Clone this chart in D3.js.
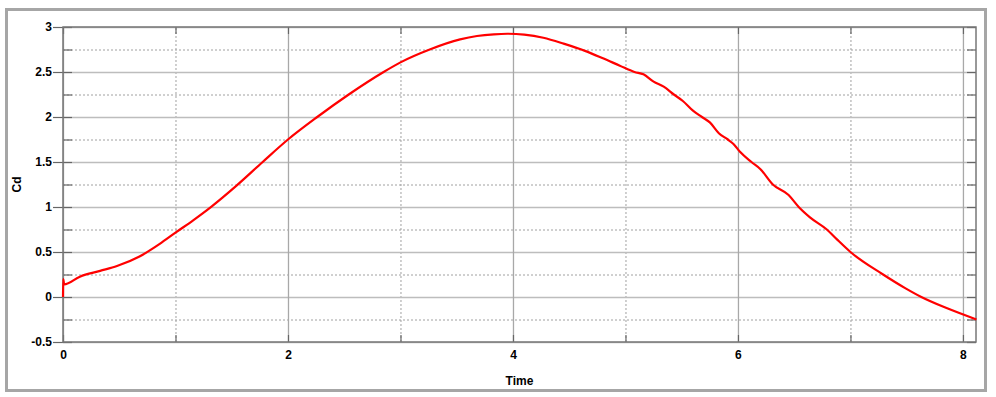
<!DOCTYPE html>
<html>
<head>
<meta charset="utf-8">
<script src="https://cdnjs.cloudflare.com/ajax/libs/d3/7.8.5/d3.min.js"></script>
<style>
  body { margin: 0; background: #fff; }
  svg text { font-family: "Liberation Sans", Arial, sans-serif; font-weight: bold; font-size: 12px; fill: #000; }
</style>
</head>
<body>
<svg width="996" height="397"></svg>
<script>
// drag coefficient vs time
var timeValues = [0, 0.002, 0.01, 0.15, 0.33, 0.48, 0.68, 0.86, 1.0, 1.16, 1.32, 1.54, 1.77, 2.0, 2.26, 2.54, 2.85, 3.0, 3.26, 3.53, 3.68, 3.83, 3.95, 4.1, 4.27, 4.45, 4.64, 4.8, 4.95, 5.08, 5.16, 5.25, 5.34, 5.43, 5.51, 5.6, 5.68, 5.75, 5.83, 5.91, 5.96, 6.02, 6.12, 6.2, 6.31, 6.45, 6.54, 6.64, 6.79, 6.88, 7.0, 7.29, 7.49, 7.63, 7.86, 8.12];
var cdValues = [0, 0.2, 0.14, 0.226, 0.29, 0.344, 0.45, 0.59, 0.715, 0.855, 1.005, 1.235, 1.495, 1.75, 2.0, 2.25, 2.5, 2.607, 2.75, 2.862, 2.9, 2.919, 2.925, 2.915, 2.88, 2.815, 2.735, 2.652, 2.57, 2.5, 2.474, 2.393, 2.337, 2.25, 2.178, 2.07, 2.0, 1.94, 1.82, 1.75, 1.7, 1.61, 1.5, 1.42, 1.25, 1.133, 1.0, 0.885, 0.75, 0.64, 0.5, 0.25, 0.096, 0, -0.126, -0.25];

var xTicks = [0, 2, 4, 6, 8];
var xMinorTicks = [1, 3, 5, 7];
var yTicks = [-0.5, 0, 0.5, 1, 1.5, 2, 2.5, 3];
var yMinorTicks = [-0.25, 0.25, 0.75, 1.25, 1.75, 2.25, 2.75];
var xDomain = [0, 8.116];
var yDomain = [-0.5, 3];

(function draw() {
  var svg = d3.select('svg');
  var pLeft = 63, pRight = 976, pTop = 27, pBottom = 342;
  var w = pRight - pLeft, h = pBottom - pTop;

  var x = d3.scaleLinear().domain(xDomain).range([pLeft, pRight]);
  var y = d3.scaleLinear().domain(yDomain).range([pBottom, pTop]);

  // outer panel frame
  svg.append('rect')
    .attr('x', 6.5).attr('y', 9.5).attr('width', 979).attr('height', 381)
    .attr('fill', '#fff').attr('stroke', '#a6a6a6').attr('stroke-width', 3);

  function styleGrid(g, color, dash, width) {
    g.select('.domain').remove();
    g.selectAll('text').remove();
    g.selectAll('line').attr('stroke', color).attr('stroke-width', width)
      .attr('stroke-dasharray', dash);
  }

  // minor grid (dotted)
  svg.append('g').attr('transform', 'translate(' + pLeft + ',0)')
    .call(d3.axisLeft(y).tickValues(yMinorTicks).tickSize(-w))
    .call(styleGrid, '#a0a0a0', '2,2', 1);
  svg.append('g').attr('transform', 'translate(0,' + pBottom + ')')
    .call(d3.axisBottom(x).tickValues(xMinorTicks).tickSize(-h))
    .call(styleGrid, '#a0a0a0', '2,2', 1);

  // major grid (solid)
  svg.append('g').attr('transform', 'translate(' + pLeft + ',0)')
    .call(d3.axisLeft(y).tickValues(yTicks).tickSize(-w))
    .call(styleGrid, '#bdbdbd', null, 1.6);
  svg.append('g').attr('transform', 'translate(0,' + pBottom + ')')
    .call(d3.axisBottom(x).tickValues(xTicks).tickSize(-h))
    .call(styleGrid, '#a8a8a8', null, 1.3);

  // inner ticks on all four sides
  var yAll = yTicks.concat(yMinorTicks), xAll = xTicks.concat(xMinorTicks);
  [[d3.axisRight(y).tickValues(yAll).tickSize(9), 'translate(' + pLeft + ',0)'],
   [d3.axisLeft(y).tickValues(yAll).tickSize(9), 'translate(' + pRight + ',0)'],
   [d3.axisTop(x).tickValues(xAll).tickSize(7), 'translate(0,' + pBottom + ')'],
   [d3.axisBottom(x).tickValues(xAll).tickSize(7), 'translate(0,' + pTop + ')']
  ].forEach(function (a) {
    svg.append('g').attr('transform', a[1]).call(a[0])
      .call(styleGrid, '#666', null, 1.2);
  });

  // left labels with outer ticks
  var yAxis = svg.append('g').attr('transform', 'translate(' + pLeft + ',0)')
    .call(d3.axisLeft(y).tickValues(yTicks).tickSize(10).tickPadding(1).tickFormat(String));
  yAxis.select('.domain').remove();
  yAxis.selectAll('line').attr('stroke', '#666').attr('stroke-width', 1.2);
  yAxis.selectAll('text').attr('font-size', null).attr('font-family', null);

  // bottom labels
  var xAxis = svg.append('g').attr('transform', 'translate(0,' + pBottom + ')')
    .call(d3.axisBottom(x).tickValues(xTicks).tickSize(0).tickPadding(8).tickFormat(String));
  xAxis.select('.domain').remove();
  xAxis.selectAll('text').attr('font-size', null).attr('font-family', null);

  // plot border
  svg.append('rect')
    .attr('x', pLeft).attr('y', pTop).attr('width', w).attr('height', h)
    .attr('fill', 'none').attr('stroke', '#777').attr('stroke-width', 1.5);

  // curve
  var pts = timeValues.map(function (t, i) { return [t, cdValues[i]]; });
  var line = d3.line()
    .x(function (d) { return x(d[0]); })
    .y(function (d) { return y(d[1]); })
    .curve(d3.curveMonotoneX);
  svg.append('path').datum(pts)
    .attr('d', line)
    .attr('fill', 'none').attr('stroke', '#ff0000').attr('stroke-width', 2.2);

  // axis titles
  svg.append('text').attr('x', (pLeft + pRight) / 2).attr('y', 385)
    .attr('text-anchor', 'middle').text('Time');
  svg.append('text').attr('transform', 'translate(21,' + ((pTop + pBottom) / 2) + ') rotate(-90)')
    .attr('text-anchor', 'middle').text('Cd');
})();
</script>
</body>
</html>
